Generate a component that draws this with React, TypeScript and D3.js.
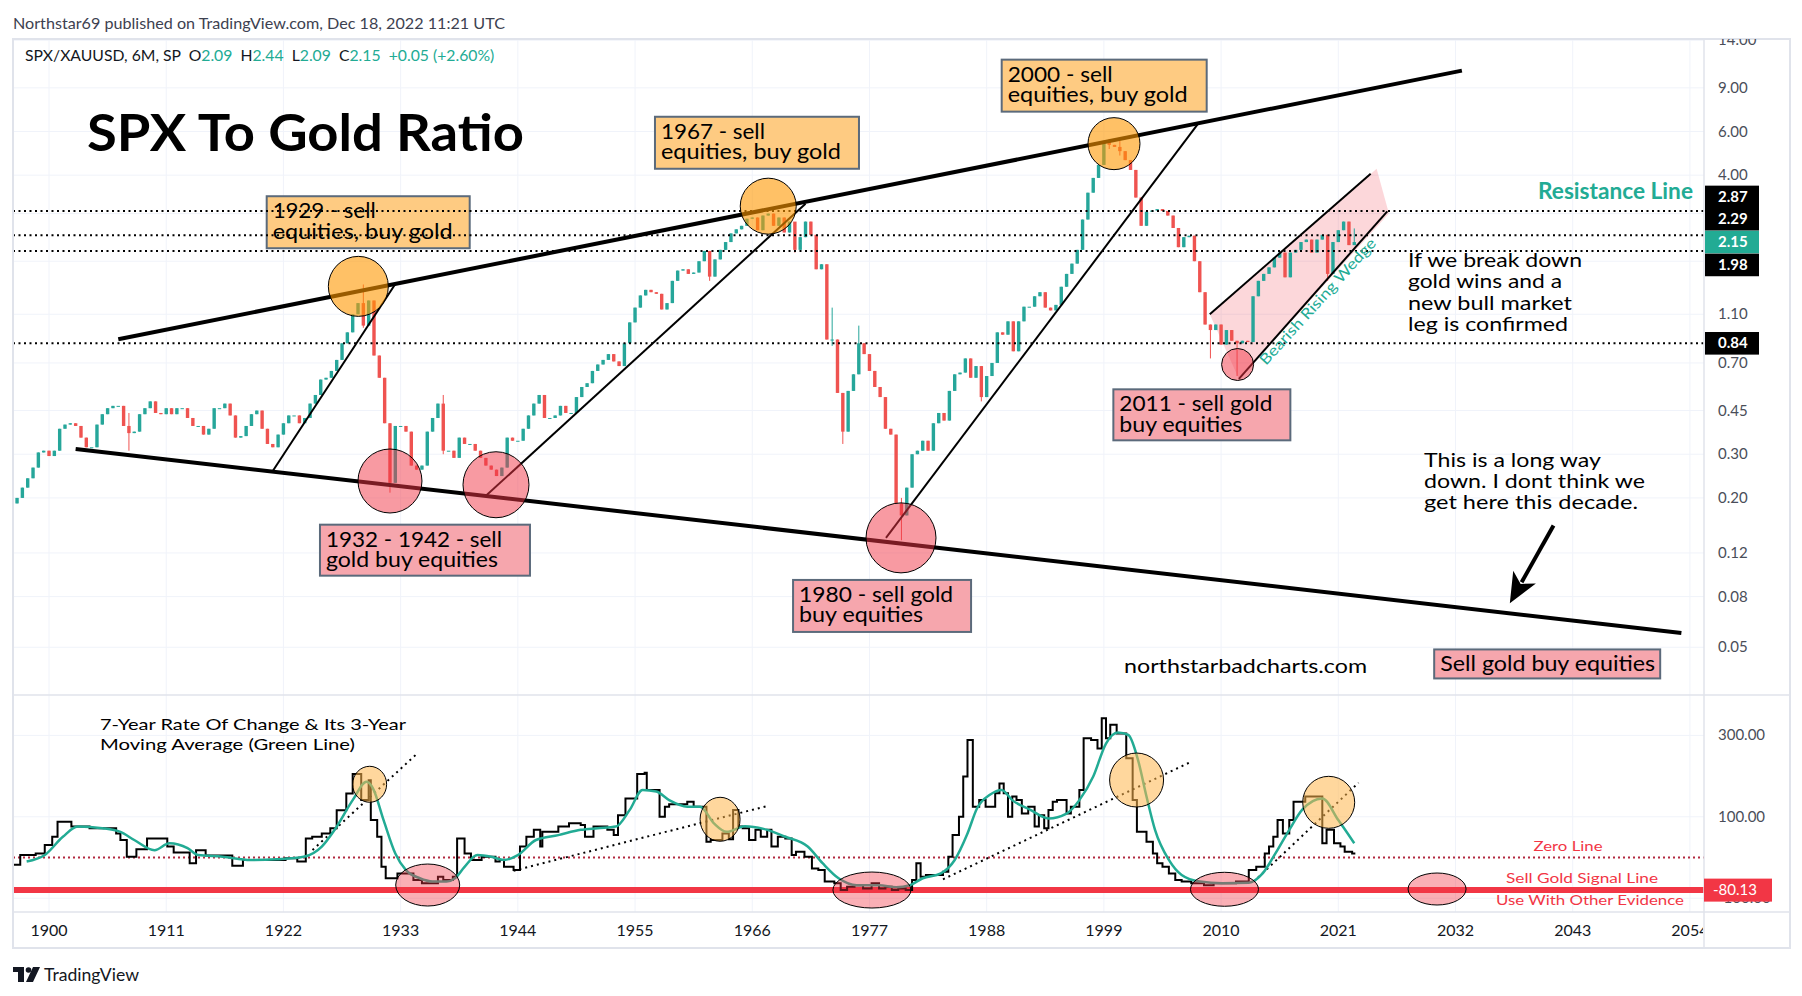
import * as d3 from 'd3'

const FONT = 'Lato, "Open Sans", "DejaVu Sans", sans-serif'
const UP = '#26a69a'
const DOWN = '#ef5350'
const TEAL = '#22ab94'
const GRID = '#f0f3fa'
const BORDER = '#e0e3eb'
const INK = '#131722'
const AXIS_TXT = '#4a4e59'
const ORANGE_BOX = '#fecb82'
const PINK_BOX = '#f6a6ad'
const BOX_EDGE = '#5b6a7b'
const SIGNAL = '#f23645'

// SPX / XAUUSD, 6M candles, first bar 1897 H1 (open of first bar below)
const startYear = 1897
const firstOpen = 0.19
const closes = [
  0.2, 0.22, 0.24, 0.265, 0.305, 0.31,
  0.295, 0.31, 0.38, 0.395, 0.4, 0.39, 0.35, 0.32, 0.32, 0.395,
  0.435, 0.46, 0.47, 0.47, 0.39, 0.365, 0.37, 0.435, 0.46, 0.49,
  0.44, 0.435, 0.46, 0.435, 0.46, 0.46, 0.42, 0.39, 0.39, 0.36,
  0.38, 0.46, 0.46, 0.48, 0.43, 0.35, 0.355, 0.39, 0.435, 0.45,
  0.38, 0.33, 0.32, 0.36, 0.4, 0.43, 0.43, 0.4, 0.42, 0.48,
  0.52, 0.6, 0.61, 0.65, 0.72, 0.84, 0.93, 1.1, 1.22, 0.99,
  1.25, 0.75, 0.61, 0.4, 0.23, 0.39, 0.39, 0.37, 0.27, 0.26,
  0.27, 0.37, 0.42, 0.48, 0.31, 0.31, 0.29, 0.35, 0.33, 0.33,
  0.31, 0.29, 0.27, 0.26, 0.245, 0.265, 0.35, 0.34, 0.34, 0.38,
  0.43, 0.48, 0.52, 0.42, 0.42, 0.43, 0.47, 0.44, 0.44, 0.51,
  0.56, 0.58, 0.65, 0.69, 0.72, 0.76, 0.71, 0.68, 0.84, 1.02,
  1.17, 1.31, 1.38, 1.35, 1.33, 1.15, 1.22, 1.5, 1.65, 1.67,
  1.6, 1.62, 1.8, 1.98, 1.56, 1.83, 2.0, 2.15, 2.33, 2.42,
  2.5, 2.67, 2.7, 2.4, 2.75, 2.8, 2.5, 2.7, 2.35, 2.6,
  2.0, 2.25, 2.6, 2.3, 1.67, 1.75, 0.87, 0.87, 0.53, 0.37,
  0.54, 0.63, 0.84, 0.76, 0.65, 0.56, 0.51, 0.38, 0.36, 0.19,
  0.17, 0.22, 0.3, 0.31, 0.34, 0.31, 0.4, 0.44, 0.41, 0.54,
  0.63, 0.64, 0.73, 0.61, 0.68, 0.51, 0.62, 0.7, 0.93, 0.91,
  1.03, 0.78, 1.03, 1.18, 1.18, 1.3, 1.35, 1.17, 1.14, 1.2,
  1.42, 1.6, 1.76, 2.0, 2.65, 3.4, 3.9, 4.4, 5.5, 5.3,
  5.2, 5.0, 4.6, 4.2, 3.25, 2.5, 2.85, 2.88, 2.92, 2.87,
  2.75, 2.45, 2.05, 2.25, 2.28, 1.8, 1.35, 1.0, 0.95, 1.0,
  0.83, 0.95, 0.86, 0.84, 0.86, 0.85, 1.3, 1.5, 1.6, 1.7,
  1.86, 1.95, 1.55, 1.95, 2.0, 2.15, 2.2, 1.95, 2.2, 2.3,
  1.6, 2.15, 2.4, 2.6, 2.09, 2.15,
]

// visible wicks: [bar year, high, low]
const wicks: [number, number, number][] = [
  [1907.5, 0.44, 0.31],
  [1929.5, 1.45, 0.97],
  [1932.0, 0.4, 0.21],
  [1937.0, 0.52, 0.3],
  [1962.0, 1.98, 1.5],
  [1970.0, 2.45, 1.95],
  [1973.5, 1.17, 0.82],
  [1974.5, 0.53, 0.33],
  [1976.0, 0.99, 0.63],
  [1980.0, 0.2, 0.135],
  [1987.5, 0.68, 0.49],
  [1999.5, 5.6, 5.1],
  [2000.5, 5.5, 4.8],
  [2009.0, 1.0, 0.73],
  [2011.5, 0.86, 0.62],
  [2020.0, 2.2, 1.5],
  [2022.5, 2.44, 2.09],
]

// 7-year rate of change, step breakpoints [year, %]
const rocSteps: number[][] = [
  [1896.7, -18], [1897.3, 6], [1898.75, 10], [1899.6, 31], [1900.3, 51], [1900.8, 88],
  [1902.1, 76], [1903.8, 72], [1906.3, 59], [1906.7, 43], [1907.3, 2], [1908.2, 20],
  [1909.2, 47], [1911.1, 27], [1911.7, 12], [1913.2, -14], [1913.8, 18], [1914.7, 5],
  [1917.2, -20], [1918.2, -6], [1922.2, -2], [1923.3, -10], [1924.1, 47], [1924.7, 51],
  [1925.6, 59], [1926.4, 72], [1927.0, 116], [1927.9, 157], [1928.5, 205], [1929.3, 141],
  [1930.0, 190], [1930.2, 92], [1930.8, 51], [1931.2, -23], [1931.6, -51], [1932.7, -39],
  [1934.2, -55], [1935.0, -63], [1936.5, -47], [1937.0, -55], [1937.9, -47], [1938.3, 47],
  [1939.0, 10], [1939.6, -6], [1940.6, 2], [1941.9, -10], [1942.3, -6], [1942.7, -23],
  [1943.6, -31], [1944.2, 27], [1944.8, 51], [1945.5, 68], [1946.1, 27], [1946.3, 63],
  [1947.8, 76], [1948.8, 84], [1949.9, 80], [1950.3, 51], [1951.1, 76], [1952.4, 68],
  [1953.0, 55], [1953.4, 104], [1954.1, 145], [1955.2, 205], [1955.9, 208], [1956.1, 166],
  [1957.3, 100], [1957.8, 125], [1958.2, 131], [1959.9, 137], [1960.5, 125],
  [1961.7, 39], [1962.1, 43], [1963.2, 59], [1963.8, 45], [1964.2, 117], [1964.7, 76],
  [1965.1, 72], [1965.7, 43], [1966.3, 68], [1966.8, 51], [1967.4, 68], [1967.8, 27],
  [1968.4, 51], [1969.1, 47], [1969.7, 6], [1970.1, 14], [1970.9, 2], [1971.6, -27],
  [1972.2, -31], [1972.8, -59], [1973.7, -63], [1974.3, -80], [1974.9, -72], [1975.6, -68],
  [1976.4, -76], [1977.2, -63], [1977.9, -76], [1978.5, -72], [1979.1, -80], [1979.7, -76],
  [1980.4, -80], [1981.0, -55], [1981.4, -14], [1981.8, -47], [1982.3, -43], [1983.9, -35],
  [1984.4, 2], [1984.8, 55], [1985.4, 100], [1985.8, 199], [1986.2, 289], [1986.7, 125],
  [1987.3, 141], [1987.9, 125], [1988.8, 158], [1989.2, 182], [1989.6, 158], [1990.0, 100],
  [1990.4, 150], [1990.8, 141], [1991.3, 108], [1991.9, 125], [1992.5, 76], [1992.9, 104],
  [1993.4, 72], [1993.8, 117], [1994.2, 137], [1994.6, 141], [1995.5, 108], [1995.9, 125],
  [1996.7, 166], [1997.1, 293], [1997.8, 289], [1998.4, 268], [1998.8, 342], [1999.2, 293],
  [1999.6, 326], [2000.2, 305], [2001.1, 244], [2001.7, 141], [2002.1, 63], [2003.0, 39],
  [2003.6, 10], [2004.0, -14], [2004.5, -23], [2005.1, -39], [2005.7, -55], [2006.3, -59],
  [2007.2, -63], [2008.4, -68], [2009.3, -63], [2011.4, -59], [2012.6, -31], [2013.3, -23],
  [2014.1, 10], [2014.5, 27], [2014.9, 51], [2015.3, 92], [2015.8, 59], [2016.4, 92],
  [2016.8, 137], [2017.9, 150], [2019.5, 35], [2019.9, 68], [2020.6, 35], [2021.2, 27],
  [2021.6, 14], [2022.3, 10], [2022.6, 10],
]

// 3-year moving average of the ROC [year, %]
const rocMa: number[][] = [
  [1897.9, -10], [1899.6, 6], [1901.3, 51], [1902.7, 76], [1905.0, 72], [1906.7, 63],
  [1908.0, 43], [1909.9, 18], [1911.3, 35], [1913.0, 23], [1914.0, 6], [1916.3, 2],
  [1918.9, -6], [1921.4, -4], [1923.9, 2], [1925.6, 27], [1926.8, 68], [1928.5, 141],
  [1929.8, 186], [1930.4, 170], [1931.4, 92], [1932.5, 10], [1933.5, -31], [1934.8, -51],
  [1936.0, -59], [1937.3, -59], [1938.1, -51], [1939.0, -23], [1940.2, 6], [1941.5, 2],
  [1942.7, -6], [1944.0, 6], [1945.7, 43], [1947.8, 55], [1949.9, 68], [1951.5, 72],
  [1953.2, 76], [1954.5, 117], [1955.7, 166], [1957.0, 162], [1958.2, 141], [1959.9, 125],
  [1961.1, 125], [1962.4, 84], [1963.6, 63], [1965.3, 77], [1967.4, 68], [1969.1, 51],
  [1971.2, 27], [1972.6, -14], [1974.1, -51], [1975.8, -68], [1977.9, -68], [1979.5, -73],
  [1980.8, -68], [1982.0, -51], [1983.7, -39], [1985.0, -6], [1986.2, 59], [1987.1, 121],
  [1988.3, 154], [1989.4, 166], [1990.4, 141], [1992.1, 117], [1993.8, 96], [1995.5, 108],
  [1996.7, 141], [1998.0, 199], [1999.2, 280], [2000.3, 307], [2001.3, 301], [2002.2, 240],
  [2003.0, 150], [2003.8, 68], [2005.1, -6], [2006.3, -43], [2008.0, -59], [2010.1, -63],
  [2012.6, -62], [2013.9, -39], [2015.1, 10], [2016.4, 68], [2017.6, 117], [2019.5, 145],
  [2021.0, 92], [2022.5, 35],
]

const priceTicks = [14, 9, 6, 4, 2.8, 1.8, 1.1, 0.7, 0.45, 0.3, 0.2, 0.12, 0.08, 0.05]
const rocTicks = [300, 100, -100]
const yearTicks = d3.range(1900, 2056, 11)
const signalLevel = -80.13

// horizontal price levels (dotted) and their axis tags
const levels = [
  { v: 2.87, bg: '#000', shift: -14, line: true },
  { v: 2.29, bg: '#000', shift: -16, line: true },
  { v: 2.15, bg: TEAL, shift: 0, line: false },
  { v: 1.98, bg: '#000', shift: 14, line: true },
  { v: 0.84, bg: '#000', shift: 0, line: true },
]

// drawn trend lines, in [year, ratio]
const thickLines = [
  [[1906.5, 0.872], [2032.6, 10.56]],
  [[1902.5, 0.315], [2053.2, 0.0571]],
]
const thinLines = [
  [[1921.03, 0.258], [1932.47, 1.45]],
  [[1941.0, 0.204], [1971.0, 3.07]],
  [[1978.55, 0.138], [2007.9, 6.5]],
  [[2008.94, 1.1], [2024.04, 4.05]],
  [[2011.67, 0.604], [2025.6, 2.86]],
]
const wedge = [[2008.94, 1.1], [2024.6, 4.25], [2025.75, 2.8], [2011.67, 0.604]]

const circles = [
  { at: [1929.03, 1.425], r: 30, sell: true },
  { at: [1932.0, 0.234], r: 32, sell: false },
  { at: [1941.95, 0.226], r: 33, sell: false },
  { at: [1967.5, 3.0], r: 28, sell: true },
  { at: [1979.96, 0.138], r: 35, sell: false },
  { at: [1999.95, 5.36], r: 26, sell: true },
  { at: [2011.55, 0.69], r: 16, sell: false },
]

const boxes = [
  { at: [1920.43, 3.29], w: 203, h: 52, sell: true, lines: ['1929 - sell', 'equities, buy gold'], lens: [103, 180] },
  { at: [1956.87, 6.88], w: 204, h: 52, sell: true, lines: ['1967 - sell', 'equities, buy gold'], lens: [104, 180] },
  { at: [1989.41, 11.69], w: 205, h: 52, sell: true, lines: ['2000 - sell', 'equities, buy gold'], lens: [105, 180] },
  { at: [1925.43, 0.156], w: 210, h: 51, sell: false, lines: ['1932 - 1942 - sell', 'gold buy equities'], lens: [176, 172] },
  { at: [1969.83, 0.0934], w: 178, h: 52, sell: false, lines: ['1980 - sell gold', 'buy equities'], lens: [154, 124] },
  { at: [1999.89, 0.548], w: 177, h: 51, sell: false, lines: ['2011 - sell gold', 'buy equities'], lens: [153, 123] },
  { at: [2030.0, 0.049], w: 226, h: 29, sell: false, lines: ['Sell gold buy equities'], lens: [215] },
]

const arrowTail = [2041.2, 0.1547]
const arrowTip = [2037.1, 0.0753]

// lower pane drawings, in [year, %]
const rocDotted = [
  [[1924.73, 18.4], [1934.4, 251.8]],
  [[1943.6, -32.4], [1967.4, 126.5]],
  [[1983.9, -53.6], [2007.2, 235.4]],
  [[2013.05, -59.5], [2022.9, 183.8]],
]
const rocMarks = [
  { at: [1930.09, 179.9], rx: 17, ry: 18, sell: true },
  { at: [1962.98, 93.9], rx: 20, ry: 22, sell: true },
  { at: [2002.07, 190.4], rx: 27, ry: 27, sell: true },
  { at: [2020.1, 135.6], rx: 26, ry: 26, sell: true },
  { at: [1935.54, -67.6], rx: 32, ry: 21, sell: false },
  { at: [1977.23, -79.9], rx: 39, ry: 18, sell: false },
  { at: [2010.32, -78.1], rx: 34, ry: 17, sell: false },
  { at: [2030.27, -77.4], rx: 29, ry: 16, sell: false },
]

export default function App() {
  const x = d3.scaleLinear().domain([1896.62, 2055.51]).range([13, 1706])
  const y = d3.scaleLog().domain([0.0321, 14.16]).range([695, 39])
  const y2 = d3.scaleLinear().domain([-133.9, 399.3]).range([912, 695])

  const wickMap = new Map(wicks.map(w => [w[0], w]))
  const candles = closes.map((c, i) => {
    const year = startYear + i / 2
    const o = i === 0 ? firstOpen : closes[i - 1]
    const w = wickMap.get(year)
    return { year, o, c, hi: w ? w[1] : Math.max(o, c), lo: w ? w[2] : Math.min(o, c) }
  })

  const rocPath = d3.line<number[]>().x(d => x(d[0])).y(d => y2(d[1])).curve(d3.curveStepAfter)(rocSteps) || ''
  const maPath = d3.line<number[]>().x(d => x(d[0])).y(d => y2(d[1])).curve(d3.curveMonotoneX)(rocMa) || ''
  const wedgePath = d3.line<number[]>().x(d => x(d[0])).y(d => y(d[1]))(wedge) + 'Z'

  // arrow geometry
  const tx = x(arrowTail[0]), ty = y(arrowTail[1])
  const hx = x(arrowTip[0]), hy = y(arrowTip[1])
  const len = Math.hypot(hx - tx, hy - ty)
  const ux = (hx - tx) / len, uy = (hy - ty) / len
  const nx = -uy, ny = ux
  const bx = hx - 30 * ux, by = hy - 30 * uy
  const head = [
    [hx, hy],
    [bx + 13 * nx, by + 13 * ny],
    [hx - 22 * ux, hy - 22 * uy],
    [bx - 13 * nx, by - 13 * ny],
  ].map(p => p.join(',')).join(' ')

  return (
    <svg width={1802} height={996} style={{ position: 'absolute', left: 0, top: 0, background: '#fff' }}
      fontFamily={FONT}>
      <defs>
        <clipPath id="main"><rect x={13} y={39} width={1691} height={656} /></clipPath>
        <clipPath id="lower"><rect x={13} y={695} width={1691} height={217} /></clipPath>
        <clipPath id="axisR"><rect x={1704} y={39} width={86} height={873} /></clipPath>
        <clipPath id="axisB"><rect x={13} y={912} width={1690} height={36} /></clipPath>
      </defs>
      <rect x={0} y={0} width={1802} height={996} fill="#fff" />

      <text x={13} y={29} fontSize={16} fill="#3d4150" textLength={492} lengthAdjust="spacingAndGlyphs">
        Northstar69 published on TradingView.com, Dec 18, 2022 11:21 UTC
      </text>

      {/* grid */}
      <g stroke={GRID} strokeWidth={1}>
        {yearTicks.map(t => <line key={t} x1={x(t)} x2={x(t)} y1={39} y2={912} />)}
        {priceTicks.map(t => <line key={t} x1={13} x2={1704} y1={y(t)} y2={y(t)} />)}
        {rocTicks.map(t => <line key={t} x1={13} x2={1704} y1={y2(t)} y2={y2(t)} />)}
      </g>

      {/* main pane */}
      <g clipPath="url(#main)">
        <path d={wedgePath} fill="rgba(242,54,69,0.2)" />
        {candles.map(d => {
          const col = d.c >= d.o ? UP : DOWN
          const top = y(Math.max(d.o, d.c)), bot = y(Math.min(d.o, d.c))
          return (
            <g key={d.year}>
              <line x1={x(d.year)} x2={x(d.year)} y1={y(d.hi)} y2={y(d.lo)} stroke={col} strokeWidth={1} />
              <rect x={x(d.year) - 1.7} y={top} width={3.4} height={Math.max(1, bot - top)} fill={col} />
            </g>
          )
        })}
        {thickLines.map((l, i) => (
          <line key={i} x1={x(l[0][0])} y1={y(l[0][1])} x2={x(l[1][0])} y2={y(l[1][1])} stroke="#000" strokeWidth={4} />
        ))}
        {thinLines.map((l, i) => (
          <line key={i} x1={x(l[0][0])} y1={y(l[0][1])} x2={x(l[1][0])} y2={y(l[1][1])} stroke="#000" strokeWidth={2} />
        ))}
        {boxes.map((b, i) => {
          const bx0 = x(b.at[0]), by0 = y(b.at[1])
          return (
            <g key={i}>
              <rect x={bx0} y={by0} width={b.w} height={b.h} fill={b.sell ? ORANGE_BOX : PINK_BOX} stroke={BOX_EDGE} strokeWidth={2} />
              {b.lines.map((s, j) => (
                <text key={j} x={bx0 + 6} y={by0 + (b.lines.length === 1 ? 21.5 : 22 + j * 20.5)} fontSize={21} fill="#000"
                  textLength={b.lens[j]} lengthAdjust="spacingAndGlyphs">{s}</text>
              ))}
            </g>
          )
        })}
        {levels.filter(l => l.line).map(l => (
          <line key={l.v} x1={13} x2={1704} y1={y(l.v)} y2={y(l.v)} stroke="#000" strokeWidth={2} strokeDasharray="2 3.5" />
        ))}
        {circles.map((c, i) => (
          <circle key={i} cx={x(c.at[0])} cy={y(c.at[1])} r={c.r}
            fill={c.sell ? 'rgba(255,152,0,0.6)' : 'rgba(242,54,69,0.5)'} stroke="#000" strokeWidth={1} />
        ))}
        <line x1={tx} y1={ty} x2={bx + 6 * ux} y2={by + 6 * uy} stroke="#000" strokeWidth={4} />
        <polygon points={head} fill="#000" />
      </g>

      {/* main pane texts */}
      <text x={25} y={61} fontSize={15.75} fill={INK} style={{ whiteSpace: 'pre' }}>
        {'SPX/XAUUSD, 6M, SP  O'}<tspan fill={TEAL}>2.09</tspan>{'  H'}<tspan fill={TEAL}>2.44</tspan>
        {'  L'}<tspan fill={TEAL}>2.09</tspan>{'  C'}<tspan fill={TEAL}>2.15</tspan>
        <tspan fill={TEAL}>{'  +0.05 (+2.60%)'}</tspan>
      </text>
      <text x={87} y={151} fontSize={52} fontWeight={700} fill="#000" textLength={437} lengthAdjust="spacingAndGlyphs">
        SPX To Gold Ratio
      </text>
      <text x={1538} y={199} fontSize={22} fontWeight={700} fill={TEAL} textLength={155} lengthAdjust="spacingAndGlyphs">
        Resistance Line
      </text>
      {[['If we break down', 174], ['gold wins and a', 154], ['new bull market', 164], ['leg is confirmed', 160]].map((r, i) => (
        <text key={i} x={1408} y={266.5 + i * 21.5} fontSize={20} fill="#000" textLength={r[1] as number}
          lengthAdjust="spacingAndGlyphs">{r[0]}</text>
      ))}
      {[['This is a long way', 177], ['down. I dont think we', 221], ['get here this decade.', 214]].map((r, i) => (
        <text key={i} x={1424} y={466.5 + i * 21} fontSize={20} fill="#000" textLength={r[1] as number}
          lengthAdjust="spacingAndGlyphs">{r[0]}</text>
      ))}
      <text x={1124} y={673} fontSize={20} fill="#000" textLength={243} lengthAdjust="spacingAndGlyphs">
        northstarbadcharts.com
      </text>
      <text transform="translate(1266,366) rotate(-47.7)" fontSize={15} fill={TEAL} textLength={165}
        lengthAdjust="spacingAndGlyphs">Bearish Rising Wedge</text>

      {/* lower pane */}
      <g clipPath="url(#lower)">
        <line x1={13} x2={1704} y1={y2(0)} y2={y2(0)} stroke="#b2283f" strokeWidth={2} strokeDasharray="2 3" />
        <line x1={13} x2={1704} y1={y2(signalLevel)} y2={y2(signalLevel)} stroke={SIGNAL} strokeWidth={6} />
        {rocDotted.map((l, i) => (
          <line key={i} x1={x(l[0][0])} y1={y2(l[0][1])} x2={x(l[1][0])} y2={y2(l[1][1])} stroke="#000"
            strokeWidth={2} strokeDasharray="2 4" />
        ))}
        <path d={rocPath} fill="none" stroke="#000" strokeWidth={2} />
        <path d={maPath} fill="none" stroke={TEAL} strokeWidth={2.5} />
        {rocMarks.map((m, i) => (
          <ellipse key={i} cx={x(m.at[0])} cy={y2(m.at[1])} rx={m.rx} ry={m.ry}
            fill={m.sell ? 'rgba(255,183,77,0.55)' : 'rgba(242,54,69,0.4)'} stroke="#000" strokeWidth={1} />
        ))}
      </g>
      <text x={100} y={730} fontSize={16} fill="#000" textLength={306} lengthAdjust="spacingAndGlyphs">
        7-Year Rate Of Change &amp; Its 3-Year
      </text>
      <text x={100} y={749.5} fontSize={16} fill="#000" textLength={255} lengthAdjust="spacingAndGlyphs">
        Moving Average (Green Line)
      </text>
      <text x={1568} y={851} fontSize={14} fill={SIGNAL} textAnchor="middle" textLength={69}
        lengthAdjust="spacingAndGlyphs">Zero Line</text>
      <text x={1582} y={883} fontSize={14} fill={SIGNAL} textAnchor="middle" textLength={152}
        lengthAdjust="spacingAndGlyphs">Sell Gold Signal Line</text>
      <text x={1590} y={905} fontSize={14} fill={SIGNAL} textAnchor="middle" textLength={188}
        lengthAdjust="spacingAndGlyphs">Use With Other Evidence</text>

      {/* frame and separators */}
      <g stroke={BORDER} fill="none">
        <line x1={13} x2={1790} y1={695} y2={695} strokeWidth={1.5} />
        <line x1={13} x2={1790} y1={912} y2={912} strokeWidth={1.5} />
        <line x1={1704} x2={1704} y1={39} y2={948} strokeWidth={1.5} />
        <rect x={13} y={39} width={1777} height={909} strokeWidth={2} />
      </g>

      {/* right axis */}
      <g clipPath="url(#axisR)" fontSize={15} fill={AXIS_TXT}>
        {priceTicks.map(t => <text key={t} x={1718} y={y(t) + 5}>{t.toFixed(2)}</text>)}
        {rocTicks.map(t => <text key={t} x={1718} y={y2(t) + 5}>{t.toFixed(2)}</text>)}
        {levels.map(l => (
          <g key={l.v}>
            <rect x={1705} y={y(l.v) + l.shift - 11.3} width={54} height={22.6} fill={l.bg} />
            <text x={1718} y={y(l.v) + l.shift + 5} fill="#fff" fontWeight={700}>{l.v.toFixed(2)}</text>
          </g>
        ))}
        <rect x={1704} y={y2(signalLevel) - 11.5} width={68} height={23} fill={SIGNAL} />
        <text x={1713} y={y2(signalLevel) + 5} fill="#fff">{signalLevel.toFixed(2)}</text>
      </g>

      {/* time axis */}
      <g clipPath="url(#axisB)" fontSize={16} fill={INK}>
        {yearTicks.map(t => <text key={t} x={x(t)} y={936} textAnchor="middle">{t}</text>)}
      </g>

      {/* watermark */}
      <g fill={INK}>
        <rect x={13} y={967} width={11} height={5} />
        <rect x={18} y={967} width={6} height={15} />
        <circle cx={28.5} cy={970} r={2.8} />
        <polygon points="33,967 40,967 33,982 26,982" />
      </g>
      <text x={44} y={981} fontSize={17} fill={INK} textLength={95} lengthAdjust="spacingAndGlyphs">TradingView</text>
    </svg>
  )
}
